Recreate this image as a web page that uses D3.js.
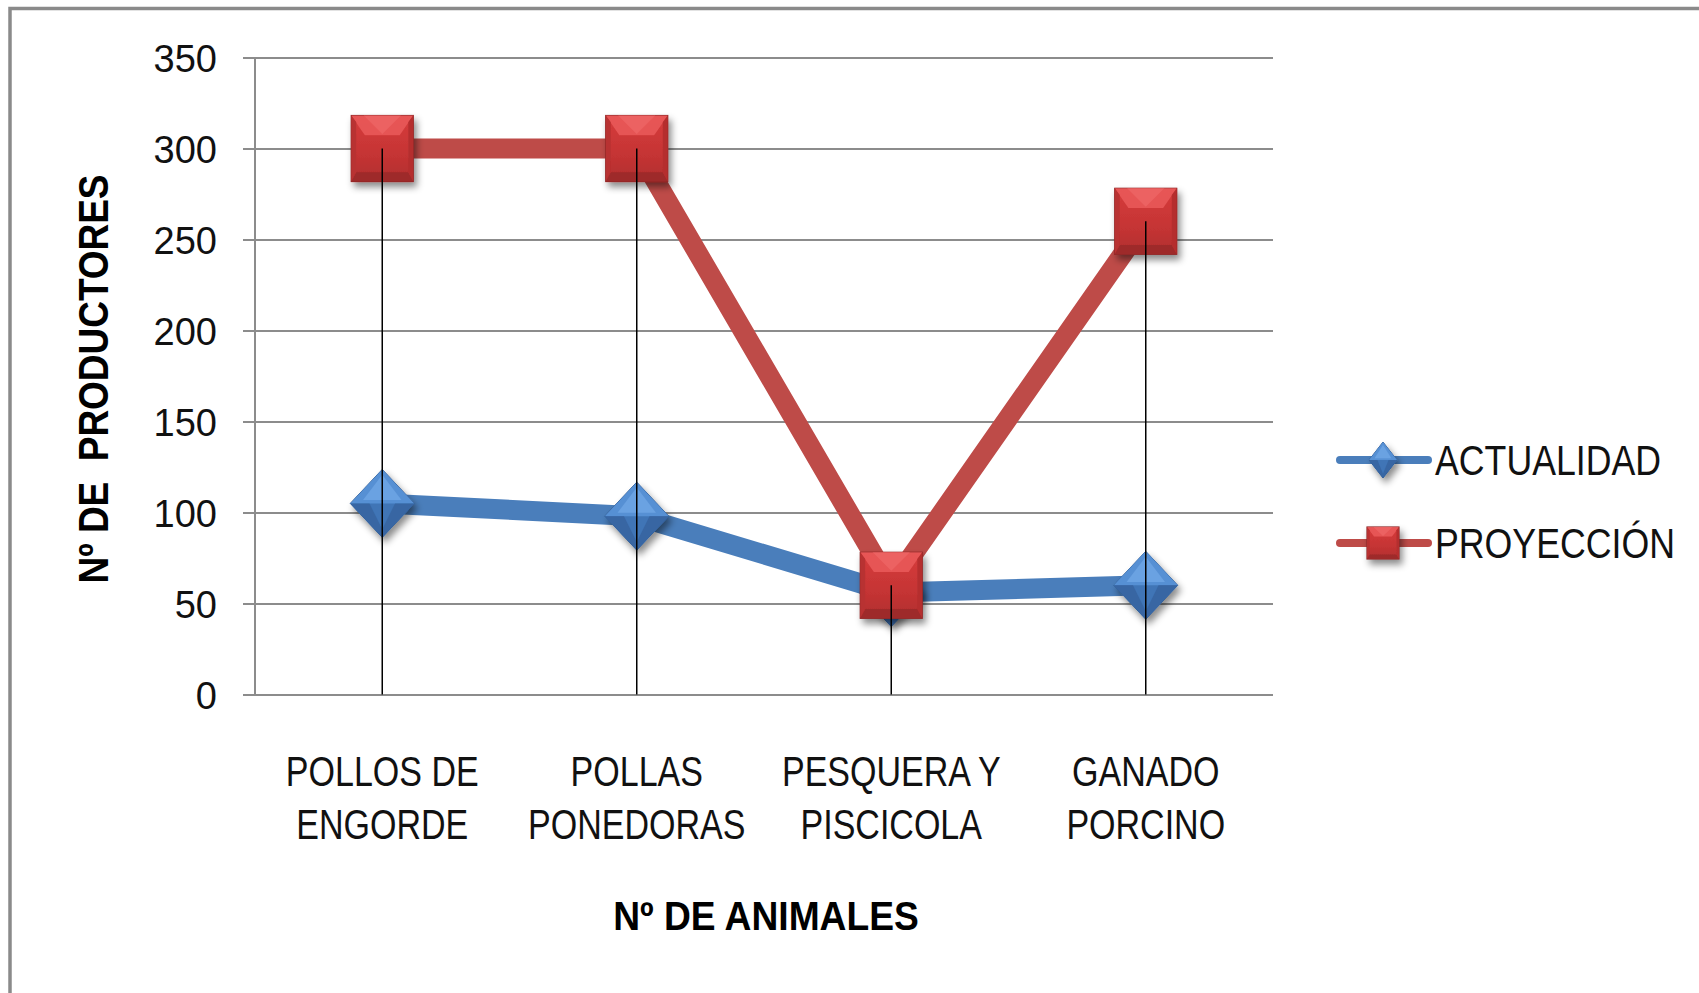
<!DOCTYPE html>
<html>
<head>
<meta charset="utf-8">
<script src="https://cdnjs.cloudflare.com/ajax/libs/d3/7.8.5/d3.min.js"></script>
<style>
  html, body { margin: 0; padding: 0; background: #fff; overflow: hidden; }
  svg { display: block; }
  text { font-family: "Liberation Sans", sans-serif; fill: #000; }
</style>
</head>
<body>
<div id="chart"></div>
<script>
// data
var categories = [
  ["POLLOS DE", "ENGORDE"],
  ["POLLAS", "PONEDORAS"],
  ["PESQUERA Y", "PISCICOLA"],
  ["GANADO", "PORCINO"]
];
var actualidad = [105, 98, 56, 60];
var proyeccion = [300, 300, 60, 260];
var yTicks = [0, 50, 100, 150, 200, 250, 300, 350];
var seriesNames = ["ACTUALIDAD", "PROYECCIÓN"];

var width = 1699,
  height = 993,
  plot = { left: 255, right: 1273, top: 57.5, bottom: 694.5 };

var svg = d3.select('#chart')
  .append('svg')
  .attr('width', width)
  .attr('height', height);

var defs = svg.append('defs');

var shadow = defs.append('filter')
  .attr('id', 'shadow')
  .attr('x', '-50%').attr('y', '-50%')
  .attr('width', '200%').attr('height', '200%');
shadow.append('feDropShadow')
  .attr('dx', 3).attr('dy', 5)
  .attr('stdDeviation', 3.5)
  .attr('flood-color', '#000')
  .attr('flood-opacity', 0.45);

var redGrad = defs.append('linearGradient')
  .attr('id', 'redGrad')
  .attr('x1', 0).attr('y1', 0).attr('x2', 0).attr('y2', 1);
redGrad.append('stop').attr('offset', '0%').attr('stop-color', '#d63c3c');
redGrad.append('stop').attr('offset', '60%').attr('stop-color', '#c53434');
redGrad.append('stop').attr('offset', '100%').attr('stop-color', '#b02d2d');

// outer frame
svg.append('rect')
  .attr('x', 10)
  .attr('y', 8.5)
  .attr('width', 2000)
  .attr('height', 2000)
  .attr('fill', 'none')
  .attr('stroke', '#8a8a8a')
  .attr('stroke-width', 3.5);

var x = d3.scaleBand()
  .domain(d3.range(categories.length))
  .range([plot.left, plot.right])
  .padding(0);

var y = d3.scaleLinear()
  .domain([0, 350])
  .range([plot.bottom, plot.top]);

function cx(i) { return x(i) + x.bandwidth() / 2; }

// narrow text: no condensed font installed, so squeeze it horizontally
function narrowText(parent, px, py, sx, rot) {
  var tf = 'translate(' + px + ',' + py + ')' + (rot ? ' rotate(' + rot + ')' : '') + ' scale(' + sx + ',1)';
  return parent.append('text').attr('transform', tf);
}

// gridlines + left ticks
var yAxis = d3.axisLeft(y)
  .tickValues(yTicks)
  .tickSize(-(plot.right - plot.left))
  .tickPadding(40)
  .tickFormat(d3.format('d'));

var gAxis = svg.append('g')
  .attr('transform', 'translate(' + plot.left + ',0)')
  .call(yAxis);
gAxis.select('.domain').remove();
gAxis.selectAll('.tick line')
  .attr('x1', -12)
  .attr('stroke', '#8c8c8c')
  .attr('stroke-width', 2);
gAxis.selectAll('.tick text')
  .attr('x', -38)
  .attr('dy', '0.36em')
  .style('font-family', '"Liberation Sans", sans-serif')
  .style('font-size', '38px')
  .style('fill', '#111');

// vertical axis line
svg.append('line')
  .attr('x1', plot.left).attr('x2', plot.left)
  .attr('y1', plot.top).attr('y2', plot.bottom)
  .attr('stroke', '#8c8c8c')
  .attr('stroke-width', 2);

// category labels
var catG = svg.append('g');
categories.forEach(function(lines, i) {
  var t = narrowText(catG, cx(i), 786, 0.81)
    .attr('text-anchor', 'middle')
    .style('font-size', '42px')
    .style('fill', '#111');
  lines.forEach(function(l, k) {
    t.append('tspan')
      .attr('x', 0)
      .attr('y', k * 53)
      .text(l);
  });
});

// axis titles
narrowText(svg, 766, 930, 0.93)
  .attr('text-anchor', 'middle')
  .style('font-size', '40px')
  .style('font-weight', 'bold')
  .text('Nº DE ANIMALES');

narrowText(svg, 108, 379, 0.88, -90)
  .attr('text-anchor', 'middle')
  .attr('xml:space', 'preserve')
  .style('font-size', '42px')
  .style('font-weight', 'bold')
  .style('white-space', 'pre')
  .text('Nº DE  PRODUCTORES');

var line = d3.line()
  .x(function(d, i) { return cx(i); })
  .y(function(d) { return y(d); });

function diamond(g, px, py, w, h) {
  var gg = g.append('g').attr('filter', 'url(#shadow)');
  var l = px - w / 2, r = px + w / 2, t = py - h / 2, b = py + h / 2;
  gg.append('path')
    .attr('d', 'M' + px + ',' + t + 'L' + r + ',' + py + 'L' + px + ',' + b + 'L' + l + ',' + py + 'Z')
    .attr('fill', '#3f74b6')
    .attr('stroke', '#335f96')
    .attr('stroke-width', 1);
  gg.append('path')
    .attr('d', 'M' + px + ',' + t + 'L' + r + ',' + py + 'L' + l + ',' + py + 'Z')
    .attr('fill', '#5790d4');
  gg.append('path')
    .attr('d', 'M' + px + ',' + (t + h * 0.08) + 'L' + (px + w * 0.3) + ',' + (py - h * 0.05) + 'L' + (px - w * 0.3) + ',' + (py - h * 0.05) + 'Z')
    .attr('fill', '#6aa2e2');
  gg.append('path')
    .attr('d', 'M' + px + ',' + b + 'L' + r + ',' + py + 'L' + (px + w * 0.2) + ',' + py + 'L' + px + ',' + (b - h * 0.12) + 'L' + (px - w * 0.2) + ',' + py + 'L' + l + ',' + py + 'Z')
    .attr('fill', '#3766a3');
}

function square(g, px, py, w, h) {
  var gg = g.append('g').attr('filter', 'url(#shadow)');
  var l = px - w / 2, r = px + w / 2, t = py - h / 2, b = py + h / 2;
  gg.append('rect')
    .attr('x', l).attr('y', t)
    .attr('width', w).attr('height', h)
    .attr('fill', 'url(#redGrad)')
    .attr('stroke', '#8e2727')
    .attr('stroke-width', 1.2);
  // light top bevel
  gg.append('path')
    .attr('d', 'M' + l + ',' + t + 'L' + r + ',' + t + 'L' + (r - w * 0.22) + ',' + (t + h * 0.3) + 'L' + (l + w * 0.22) + ',' + (t + h * 0.3) + 'Z')
    .attr('fill', '#ea5a5a')
    .attr('opacity', 0.85);
  gg.append('path')
    .attr('d', 'M' + (l + w * 0.2) + ',' + t + 'L' + (r - w * 0.2) + ',' + t + 'L' + px + ',' + (t + h * 0.28) + 'Z')
    .attr('fill', '#f06a6a')
    .attr('opacity', 0.6);
  // dark bottom band
  gg.append('path')
    .attr('d', 'M' + l + ',' + b + 'L' + r + ',' + b + 'L' + (r - w * 0.08) + ',' + (b - h * 0.14) + 'L' + (l + w * 0.08) + ',' + (b - h * 0.14) + 'Z')
    .attr('fill', '#9e2b2b');
  // side shades
  gg.append('path')
    .attr('d', 'M' + l + ',' + t + 'L' + (l + w * 0.08) + ',' + (t + h * 0.1) + 'L' + (l + w * 0.08) + ',' + (b - h * 0.14) + 'L' + l + ',' + b + 'Z')
    .attr('fill', '#b83030');
  gg.append('path')
    .attr('d', 'M' + r + ',' + t + 'L' + (r - w * 0.08) + ',' + (t + h * 0.1) + 'L' + (r - w * 0.08) + ',' + (b - h * 0.14) + 'L' + r + ',' + b + 'Z')
    .attr('fill', '#b52f2f');
}

// series 1
var s1 = svg.append('g');
s1.append('path')
  .datum(actualidad)
  .attr('d', line)
  .attr('fill', 'none')
  .attr('stroke', '#4a7ebb')
  .attr('stroke-width', 20)
  .attr('stroke-linejoin', 'round');
actualidad.forEach(function(v, i) {
  diamond(s1, cx(i), y(v), 64, 68);
});

// series 2
var s2 = svg.append('g');
s2.append('path')
  .datum(proyeccion)
  .attr('d', line)
  .attr('fill', 'none')
  .attr('stroke', '#be4b48')
  .attr('stroke-width', 20)
  .attr('stroke-linejoin', 'round');
proyeccion.forEach(function(v, i) {
  square(s2, cx(i), y(v), 62, 66);
});

// drop lines from the highest value to the axis
svg.append('g')
  .selectAll('line')
  .data(categories)
  .enter()
  .append('line')
  .attr('x1', function(d, i) { return cx(i); })
  .attr('x2', function(d, i) { return cx(i); })
  .attr('y1', function(d, i) { return y(Math.max(actualidad[i], proyeccion[i])); })
  .attr('y2', plot.bottom)
  .attr('stroke', '#000')
  .attr('stroke-width', 1.5);

// legend
var legend = svg.append('g');
var legendY = [460, 543];
[['#4a7ebb', 'd'], ['#be4b48', 's']].forEach(function(s, k) {
  legend.append('line')
    .attr('x1', 1340).attr('x2', 1428)
    .attr('y1', legendY[k]).attr('y2', legendY[k])
    .attr('stroke', s[0])
    .attr('stroke-width', 8)
    .attr('stroke-linecap', 'round');
  if (s[1] === 'd') diamond(legend, 1383, legendY[k], 28, 36);
  else square(legend, 1383, legendY[k], 32, 32);
  narrowText(legend, 1435, legendY[k], 0.85)
    .attr('dy', '0.36em')
    .style('font-size', '42px')
    .style('fill', '#111')
    .text(seriesNames[k]);
});
</script>
</body>
</html>
